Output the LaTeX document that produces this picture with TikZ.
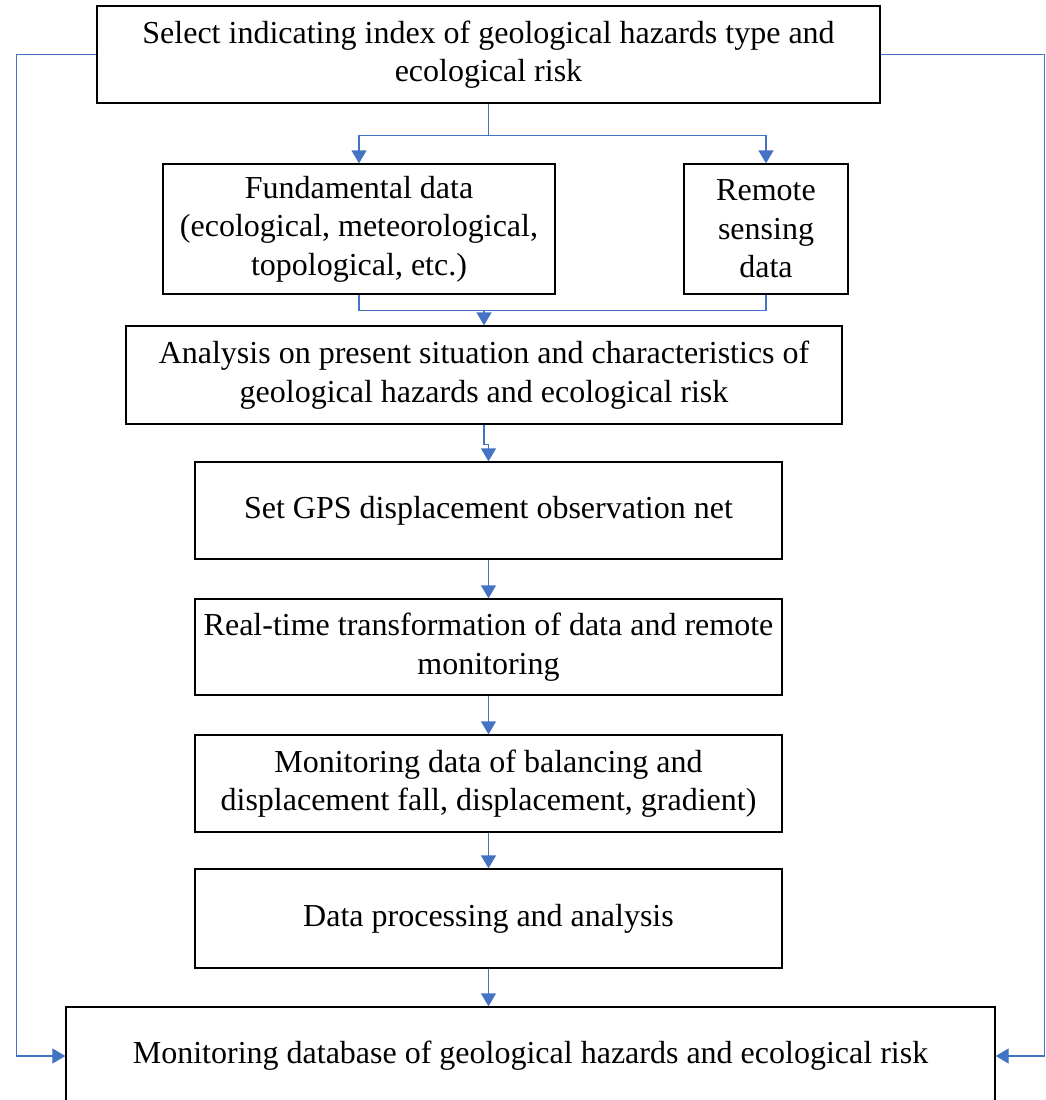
\documentclass[tikz,border=0pt]{standalone}
\usepackage{fontspec}
\setmainfont{Liberation Serif}
\usetikzlibrary{arrows.meta,positioning}
\definecolor{linkblue}{HTML}{4472C4}

\begin{document}
\begin{tikzpicture}[x=1pt,y=-1pt,>={Triangle[width=15pt,length=13pt]},
  font=\fontsize{32}{38.5}\selectfont,
  box/.style={draw=black,line width=1.3pt,inner sep=0pt,align=center},
  link/.style={draw=linkblue,line width=1.3pt}]
\useasboundingbox (0,0) rectangle (1046,1100);
% boxes
\node[box,minimum width=783,minimum height=97] (top) at (488.5,54.5)
  {Select indicating index of geological hazards type and\\ecological risk};
\node[box,minimum width=392,minimum height=130] (fund) at (359,229)
  {Fundamental data\\(ecological, meteorological,\\topological, etc.)};
\node[box,minimum width=164,minimum height=130] (remote) at (766,229)
  {Remote\\sensing\\data};
\node[box,minimum width=716,minimum height=98] (ana) at (484,375)
  {Analysis on present situation and characteristics of\\geological hazards and ecological risk};
\node[box,minimum width=587,minimum height=97] (gps) at (488.5,510.5)
  {Set GPS displacement observation net};
\node[box,minimum width=587,minimum height=96] (rt) at (488.5,647)
  {Real-time transformation of data and remote\\monitoring};
\node[box,minimum width=587,minimum height=97] (mon) at (488.5,783.5)
  {Monitoring data of balancing and\\displacement fall, displacement, gradient)};
\node[box,minimum width=587,minimum height=99] (proc) at (488.5,918.5)
  {Data processing and analysis};
\node[box,minimum width=929,minimum height=98] (db) at (530.5,1056)
  {Monitoring database of geological hazards and ecological risk};
% connectors
\draw[link,->] (top.south) -- ++(0,32) -| (fund.north);
\draw[link,->] (top.south) -- ++(0,32) -| (remote.north);
\draw[link] (fund.south) -- ++(0,16) -| (remote.south);
\coordinate (join) at (484,310);
\draw[link,->] (join) -- (join |- ana.north);
\draw[link,->] (ana.south) -- ++(0,20) -| (gps.north);
\draw[link,->] (gps) -- (rt);
\draw[link,->] (rt) -- (mon);
\draw[link,->] (mon) -- (proc);
\draw[link,->] (proc.south) -- (proc.south |- db.north);
\draw[link,->] (top.west) -- ++(-80,0) |- (db.west);
\draw[link,->] (top.east) -- ++(164,0) |- (db.east);
\end{tikzpicture}
\end{document}
